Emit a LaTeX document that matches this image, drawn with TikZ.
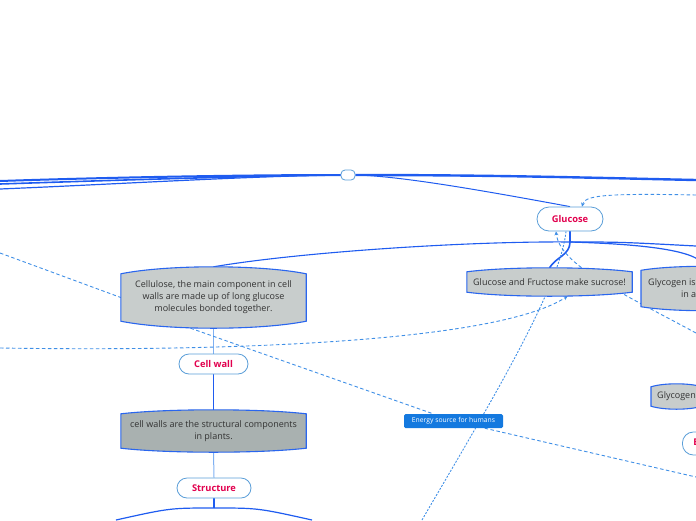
\documentclass[tikz,border=0pt]{standalone}
\usepackage{fontspec}
\setmainfont{Open Sans}
\usetikzlibrary{arrows.meta,calc}
\definecolor{mainblue}{HTML}{1F5CF0}
\definecolor{lightline}{HTML}{7FB0F2}
\definecolor{dashblue}{HTML}{3F8FE6}
\definecolor{blobline}{HTML}{2A66EE}
\definecolor{pillline}{HTML}{5A9ED8}
\definecolor{txtred}{HTML}{E2004E}
\definecolor{blobfill}{HTML}{C8CDCC}
\definecolor{blobdark}{HTML}{A9B1B0}
\definecolor{txtgray}{HTML}{333333}
\definecolor{energyfill}{HTML}{1479DF}
\pgfdeclarelayer{edges}\pgfdeclarelayer{blobs}\pgfsetlayers{edges,blobs,main}
\tikzset{
 blobnode/.style={inner sep=0pt, align=center, text=txtgray, font=\fontsize{9}{12}\selectfont},
 pill/.style={draw=pillline, line width=0.8pt, fill=white, rounded corners=10pt, inner sep=0pt, text=txtred, font=\bfseries\fontsize{9.3}{11}\selectfont},
 mainline/.style={draw=mainblue, line width=1.2pt},
 thinline/.style={draw=lightline, line width=1pt},
 rel/.style={draw=dashblue, line width=0.9pt, dash pattern=on 3.5pt off 2.5pt},
 reldot/.style={draw=dashblue, line width=0.9pt, dash pattern=on 2pt off 1.5pt},
 tip/.style={-{Stealth[length=4pt,width=4pt]}},
 blobpath/.style={draw=blobline, line width=1.1pt},
}
\newcommand\myblob[3]{%
 \begin{pgfonlayer}{blobs}
 \path[blobpath, fill=#2] ([yshift=-#3pt]#1.north west)
   .. controls ($(#1.north west)!0.25!(#1.north east)+(0,-#3/3)$) and ($(#1.north west)!0.75!(#1.north east)+(0,-#3/3)$) .. ([yshift=-#3pt]#1.north east)
   -- ([yshift=#3pt]#1.south east)
   .. controls ($(#1.south west)!0.75!(#1.south east)+(0,#3/3)$) and ($(#1.south west)!0.25!(#1.south east)+(0,#3/3)$) .. ([yshift=#3pt]#1.south west)
   -- cycle;
 \end{pgfonlayer}}
\begin{document}
\begin{tikzpicture}[x=1pt,y=-1pt]
\useasboundingbox (0,0) rectangle (696,520);
\clip (0,0) rectangle (696,520);
% nodes
\node[pill, minimum width=14pt, minimum height=10pt, rounded corners=4pt] (ctr) at (348,175) {};
\node[pill, minimum width=66pt, minimum height=24pt, rounded corners=12pt] (glucose) at (570,219) {Glucose};
\node[blobnode, minimum width=165pt, minimum height=28pt] (sucrose) at (549.5,282) {Glucose and Fructose make sucrose!};
\node[blobnode, minimum width=185pt, minimum height=61pt] (cellulose) at (213.5,297.5) {Cellulose, the main component in cell\\walls are made up of long glucose\\molecules bonded together.};
\node[pill, minimum width=69pt, minimum height=20pt] (cellwall) at (213.5,364) {Cell wall};
\node[blobnode, minimum width=185pt, minimum height=42pt] (cwalls) at (213.5,431) {cell walls are the structural components\\in plants.};
\node[pill, minimum width=74pt, minimum height=20pt] (structure) at (214,488) {Structure};
\node[blobnode, anchor=west, inner xsep=7pt, minimum height=44pt] (glyco1) at (641,288.5) {Glycogen is glucose stored\\in animals.};
\node[blobnode, anchor=west, inner xsep=6pt, minimum height=25pt] (glyco2) at (651,396.5) {Glycogen};
\node[pill, anchor=west, inner xsep=11pt, minimum height=23pt, rounded corners=11pt] (redn) at (682,443.5) {Energy};
\node[fill=energyfill, rounded corners=1.5pt, minimum width=99pt, minimum height=14pt, inner sep=0pt, text=white, font=\fontsize{6.8}{8}\selectfont] (energy) at (453.5,421) {Energy source for humans};
\myblob{sucrose}{blobfill}{4}
\myblob{cellulose}{blobfill}{7}
\myblob{cwalls}{blobdark}{4}
\myblob{glyco1}{blobfill}{4}
\myblob{glyco2}{blobfill}{3}
% free ends
\coordinate (L1) at (0,181);
\coordinate (L2) at (0,184);
\coordinate (L3) at (0,189);
\coordinate (R1) at (696,180);
\coordinate (gb) at (570,242);
\coordinate (Rg1) at (696,246);
\coordinate (D1s) at (0,253);
\coordinate (D2e) at (696,477);
\coordinate (D3s) at (0,348);
\coordinate (D4s) at (422,520);
\coordinate (D5s) at (696,333);
\coordinate (D6s) at (696,195);
\coordinate (S1) at (116,520);
\coordinate (S2) at (312,520);
\coordinate (sb) at (214,508);
\begin{pgfonlayer}{edges}
\draw[mainline, line width=2pt] (ctr.west) .. controls (250,175) and (120,177) .. (L1);
\draw[mainline, line width=1.6pt] (ctr.west) .. controls (250,176) and (120,180) .. (L2);
\draw[mainline, line width=1.2pt] (ctr.west) .. controls (250,176) and (120,184) .. (L3);
\draw[mainline, line width=2.4pt] (ctr.east) .. controls (500,175) and (600,178) .. (R1);
\draw[mainline, line width=1pt] (ctr.east) .. controls (400,176) and (480,190) .. (glucose.north);
\draw[mainline, line width=2.2pt] (glucose.south) -- (gb);
\draw[mainline, line width=1.1pt] (gb) .. controls (470,241) and (300,252) .. (cellulose.north);
\draw[mainline, line width=1.6pt] (gb) .. controls (570,255) and (556,257) .. (sucrose.north);
\draw[mainline, line width=1.2pt] (gb) .. controls (620,242) .. (Rg1);
\draw[mainline, line width=1.2pt] (gb) .. controls (640,244) and (700,250) .. (glyco1.north);
\draw[thinline] (cellulose.south) -- (cellwall.north);
\draw[mainline] (cellwall.south) -- (cwalls.north);
\draw[thinline] (cwalls.south) -- (structure.north);
\draw[mainline] (structure.south) -- (sb);
\draw[mainline] (sb) .. controls (170,508) .. (S1);
\draw[mainline] (sb) .. controls (258,508) .. (S2);
\draw[rel] (D1s) -- (cellulose.west);
\draw[rel] ([xshift=-23pt]cellulose.south) -- (energy) -- (D2e);
\draw[rel, tip] (D3s) .. controls (250,352) and (500,340) .. ([xshift=18pt]sucrose.south);
\draw[reldot] (D4s) .. controls (480,420) and (560,290) .. ([xshift=-4pt]glucose.south);
\draw[rel, tip] (D5s) .. controls (620,292) and (560,265) .. ([xshift=-14pt]glucose.south);
\draw[rel, tip] (D6s) .. controls (600,193) and (585,196) .. ([xshift=12pt]glucose.north);
\end{pgfonlayer}
\end{tikzpicture}
\end{document}
